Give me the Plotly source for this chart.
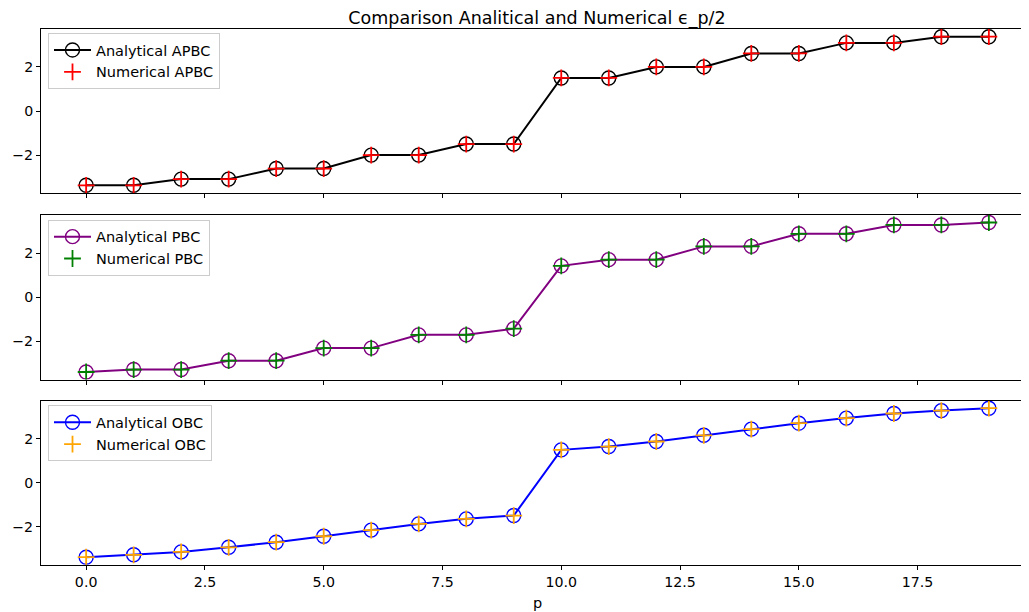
import plotly.graph_objects as go
from plotly.subplots import make_subplots

# -----------------------------
# DATA
# -----------------------------
p = list(range(20))

apbc_analytical = [-3.37, -3.37, -3.09, -3.09, -2.61, -2.61, -2.0, -2.0, -1.5, -1.5,
                   1.5, 1.5, 2.0, 2.0, 2.61, 2.61, 3.09, 3.09, 3.37, 3.37]
apbc_numerical = [-3.37, -3.37, -3.09, -3.09, -2.61, -2.61, -2.0, -2.0, -1.5, -1.5,
                  1.5, 1.5, 2.0, 2.0, 2.61, 2.61, 3.09, 3.09, 3.37, 3.37]

pbc_analytical = [-3.38, -3.27, -3.27, -2.87, -2.87, -2.30, -2.30, -1.70, -1.70, -1.42,
                  1.42, 1.70, 1.70, 2.30, 2.30, 2.87, 2.87, 3.27, 3.27, 3.38]
pbc_numerical = [-3.38, -3.27, -3.27, -2.87, -2.87, -2.30, -2.30, -1.70, -1.70, -1.42,
                 1.42, 1.70, 1.70, 2.30, 2.30, 2.87, 2.87, 3.27, 3.27, 3.38]

obc_analytical = [-3.38, -3.27, -3.14, -2.93, -2.70, -2.43, -2.15, -1.87, -1.64, -1.49,
                  1.49, 1.64, 1.87, 2.15, 2.43, 2.70, 2.93, 3.14, 3.27, 3.38]
obc_numerical = [-3.38, -3.27, -3.14, -2.93, -2.70, -2.43, -2.15, -1.87, -1.64, -1.49,
                 1.49, 1.64, 1.87, 2.15, 2.43, 2.70, 2.93, 3.14, 3.27, 3.38]

x_ticks = [0, 2.5, 5, 7.5, 10, 12.5, 15, 17.5]
y_ticks = [-2, 0, 2]

FONT = "DejaVu Sans"

panels = [
    ("APBC", apbc_analytical, apbc_numerical, "black", "red"),
    ("PBC", pbc_analytical, pbc_numerical, "purple", "green"),
    ("OBC", obc_analytical, obc_numerical, "blue", "orange"),
]

fig = make_subplots(rows=3, cols=1, shared_xaxes=True)

for i, (name, ana, num, c_ana, c_num) in enumerate(panels, start=1):
    legend_id = "legend" if i == 1 else f"legend{i}"
    fig.add_trace(go.Scatter(
        x=p, y=ana, mode="lines+markers", name=f"Analytical {name}",
        line=dict(color=c_ana, width=2),
        marker=dict(symbol="circle-open", size=14, color=c_ana, line=dict(width=1.4, color=c_ana)),
        legend=legend_id,
    ), row=i, col=1)
    fig.add_trace(go.Scatter(
        x=p, y=num, mode="markers", name=f"Numerical {name}",
        marker=dict(symbol="cross-thin-open", size=12, color=c_num, line=dict(width=1.8, color=c_num)),
        legend=legend_id,
    ), row=i, col=1)

# page body has an 8px margin, so positions below are page pixels minus 8
W, H = 1029.0, 612.0
OFF = 8


def fy(page_y):
    return (H - (page_y - OFF)) / H


def fx(page_x):
    return (page_x - OFF) / W


y_domains = [
    [fy(193), fy(29)],
    [fy(379.5), fy(215)],
    [fy(564.7), fy(400.7)],
]
legend_tops = [fy(33), fy(219.7), fy(405.3)]

axis_common = dict(
    showline=True, linecolor="black", linewidth=1,
    ticks="outside", ticklen=4, tickwidth=1, tickcolor="black",
    showgrid=False, zeroline=False,
    tickfont=dict(family=FONT, size=14.2, color="black"),
)

for i in range(1, 4):
    fig.update_xaxes(
        row=i, col=1, domain=[fx(41), fx(1034)], range=[-0.95, 19.95],
        tickvals=x_ticks, tickformat=".1f", mirror=True,
        showticklabels=(i == 3), **axis_common,
    )
    fig.update_yaxes(
        row=i, col=1, domain=y_domains[i - 1], range=[-3.72, 3.72],
        tickvals=y_ticks, **axis_common,
    )

legend_style = dict(
    x=fx(48), xanchor="left", yanchor="top",
    bgcolor="rgba(255,255,255,0.8)", bordercolor="#cccccc", borderwidth=1,
    font=dict(family=FONT, size=14.5, color="black"),
    tracegroupgap=0, itemwidth=37,
)

fig.update_layout(
    width=W, height=H,
    margin=dict(l=0, r=0, t=0, b=0),
    plot_bgcolor="white", paper_bgcolor="white",
    font=dict(family=FONT, size=14, color="black"),
    title=dict(
        text="Comparison Analitical and Numerical ϵ_p/2",
        x=fx(537), xanchor="center", y=fy(18), yanchor="middle",
        yref="container", font=dict(family=FONT, size=17.5, color="black"),
    ),
    legend=dict(y=legend_tops[0], **legend_style),
    legend2=dict(y=legend_tops[1], **legend_style),
    legend3=dict(y=legend_tops[2], **legend_style),
    annotations=[dict(
        text="p", x=fx(537), y=fy(603), xref="paper", yref="paper",
        xanchor="center", yanchor="middle", showarrow=False,
        font=dict(family=FONT, size=14.5, color="black"),
    )],
)

fig.write_html("out.html")
